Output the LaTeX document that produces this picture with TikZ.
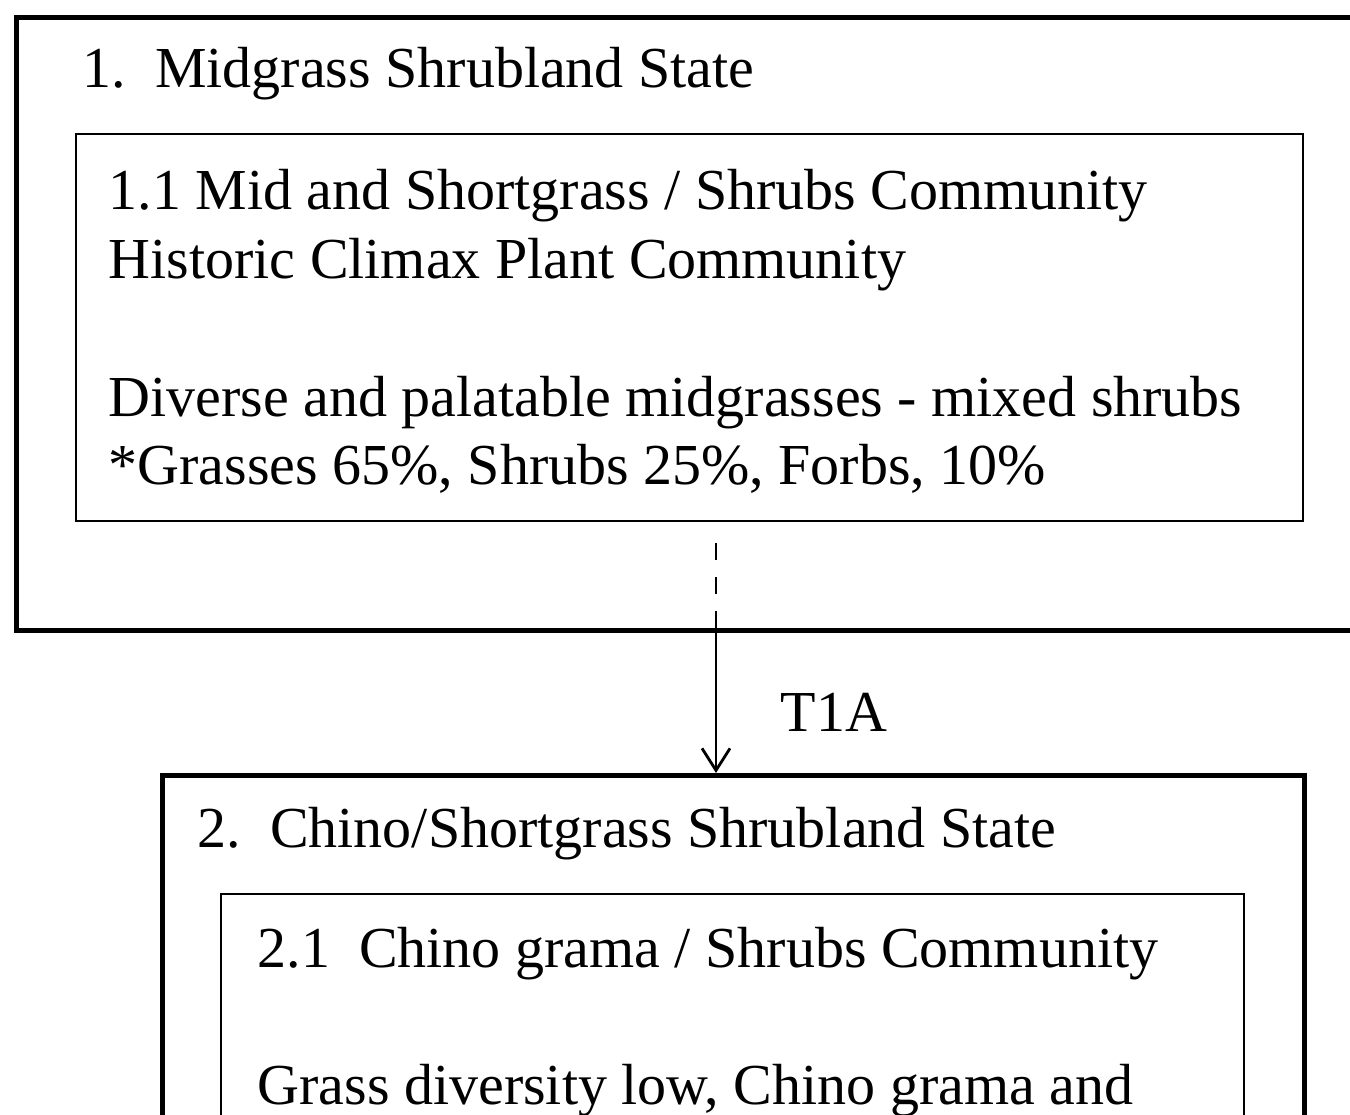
\documentclass[tikz,border=0pt]{standalone}
\usepackage{fontspec}
\setmainfont{Liberation Serif}
\usepackage{tikz}
\usetikzlibrary{arrows.meta,positioning}
\tikzset{
  statebox/.style={draw,line width=1.4pt,anchor=north west,inner sep=0pt},
  commbox/.style={draw,line width=0.7pt,anchor=north west,inner sep=0pt},
  ttl/.style={anchor=base west,inner sep=0pt,font=\fontsize{16.5}{19.6}\selectfont},
  txt/.style={anchor=base west,inner sep=0pt,align=left,font=\fontsize{16.5}{19.6}\selectfont},
  arr/.style={-{Straight Barb[length=0.22cm,width=0.28cm]},line width=0.8pt},
}

\begin{document}
\begin{tikzpicture}
 \useasboundingbox (0,0) rectangle (13.5,-11.15);
 \clip (0,0) rectangle (13.5,-11.15);
 % state 1
 \node[statebox,minimum width=14cm,minimum height=6.13cm] (s1) at (0.14,-0.15){};
 \node[ttl] (s1t) at (0.82,-0.88){1.\ \ Midgrass Shrubland State};
 \node[commbox,minimum width=12.27cm,minimum height=3.87cm] (c11) at (0.75,-1.33){};
 \node[txt] (c11t) at (1.08,-4.85){1.1 Mid and Shortgrass / Shrubs Community\\Historic Climax Plant Community\\[19.6pt]Diverse and palatable midgrasses - mixed shrubs\\*Grasses 65\%, Shrubs 25\%, Forbs, 10\%};
 % state 2
 \node[statebox,minimum width=11.42cm,minimum height=5cm] (s2) at (1.60,-7.73){};
 \node[ttl] (s2t) at (1.97,-8.48){2.\ \ Chino/Shortgrass Shrubland State};
 \node[commbox,minimum width=10.23cm,minimum height=4cm] (c21) at (2.20,-8.93){};
 \node[txt] (c21t) at (2.57,-11.05){2.1\ \ Chino grama / Shrubs Community\\[19.6pt]Grass diversity low, Chino grama and};
 % transition
 \coordinate (t1a) at (7.16,-5.43);
 \draw[line width=0.8pt,dash pattern=on 0.17cm off 0.17cm] (t1a) -- (t1a |- s1.south);
 \draw[arr] (t1a |- s1.south) -- (t1a |- s2.north);
 \node[ttl] (t1al) at (7.80,-7.32){T1A};
\end{tikzpicture}
\end{document}
